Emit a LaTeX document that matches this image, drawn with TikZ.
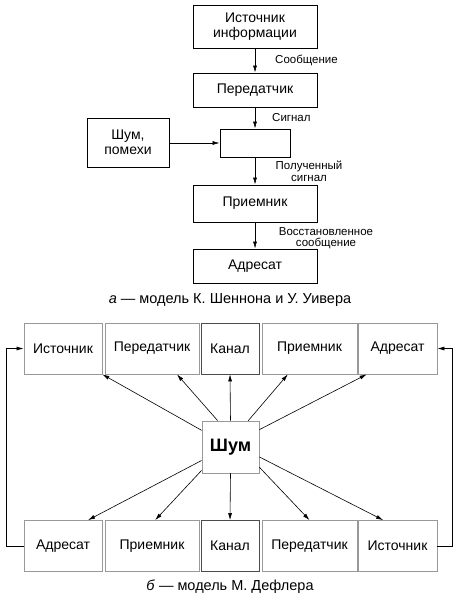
\documentclass[tikz,border=0pt]{standalone}
\usepackage{fontspec}
\setmainfont{Liberation Sans}
\usetikzlibrary{arrows.meta}

\begin{document}
\begin{tikzpicture}[x=1pt, y=-1pt,
		blk/.style={draw, line width=0.8pt, align=center, inner sep=0pt, font=\fontsize{14}{14.5}\selectfont},
		gblk/.style={draw=black!40, line width=0.8pt, inner sep=0pt, minimum height=51pt, font=\fontsize{14}{15}\selectfont},
		lbl/.style={align=center, inner sep=0pt, font=\fontsize{11.5}{11.5}\selectfont},
		capt/.style={inner sep=0pt, font=\fontsize{14.5}{15}\selectfont},
		arr/.style={-{Latex[length=7pt,width=4pt]}, line width=0.6pt}]
		\useasboundingbox (0, 0) rectangle (458, 602);
	
		\node[blk, minimum width=124pt, minimum height=43pt] (src) at (255, 26.5) {Источник\\информации};
		\node[blk, minimum width=124pt, minimum height=34pt] (tx) at (255, 90) {Передатчик};
		\node[blk, minimum width=70pt, minimum height=28pt] (ch) at (255, 143) {};
		\node[blk, minimum width=82pt, minimum height=49pt] (noise) at (128, 142.5) {Шум,\\помехи};
		\node[blk, minimum width=124pt, minimum height=37pt] (rx) at (255, 203.5) {Приемник};
		\node[blk, minimum width=124pt, minimum height=34pt] (dst) at (255, 266) {Адресат};
		
		\draw[arr] (src) -- (tx);
		\draw[arr] (tx) -- (ch);
		\draw[arr] (noise.east |- ch.west) -- (ch.west);
		\draw[arr] (ch) -- (rx);
		\draw[arr] (rx) -- (dst);
		
		\node[lbl, anchor=west] (msg) at (275, 60) {Сообщение};
		\node[lbl, anchor=west] (sig) at (272, 118) {Сигнал};
		\node[lbl] (rsig) at (309, 171.5) {Полученный\\сигнал};
		\node[lbl] (rmsg) at (326, 238) {Восстановленное\\сообщение};
		
		\node[capt] (capa) at (230, 300) {\textit{а} — модель К. Шеннона и У. Уивера};
		
		\node[gblk, minimum width=78pt] (iT) at (63, 348.5) {Источник};
		\node[gblk, minimum width=94pt] (pT) at (152, 348.5) {Передатчик};
		\node[gblk, draw=black!70, minimum width=58pt] (kT) at (230, 348.5) {Канал};
		\node[gblk, minimum width=95pt] (prT) at (309.5, 348.5) {Приемник};
		\node[gblk, minimum width=79pt] (aT) at (397.5, 348.5) {Адресат};
		
		\node[gblk, minimum width=78pt] (aB) at (63, 546) {Адресат};
		\node[gblk, minimum width=94pt] (prB) at (152, 546) {Приемник};
		\node[gblk, draw=black!70, minimum width=58pt] (kB) at (230, 546) {Канал};
		\node[gblk, minimum width=95pt] (pB) at (309.5, 546) {Передатчик};
		\node[gblk, minimum width=79pt] (iB) at (397.5, 546) {Источник};
		
		\node[gblk, minimum width=57pt, minimum height=52pt, font=\fontsize{18}{20}\selectfont\bfseries] (shum) at (230.5, 447) {Шум};
		
		\draw[arr] (shum.150) -- (iT.south east);
		\draw[arr] (shum.116) -- (pT.-46);
		\draw[arr] (shum.north) -- (kT.south);
		\draw[arr] (shum.56) -- (prT.230);
		\draw[arr] (shum.31) -- (aT.220);
		
		\draw[arr] (shum.205) -- (aB.46);
		\draw[arr] (shum.219) -- (prB.83);
		\draw[arr] (shum.south) -- (kB.north);
		\draw[arr] (shum.-35) -- (pB.north);
		\draw[arr] (shum.-19) -- (iB.119);
		
		\draw[arr, {Latex[length=7pt,width=4pt]}-] (iT.west) -- ++(-17, 0) |- (aB.west);
		\draw[arr, {Latex[length=7pt,width=4pt]}-] (aT.east) -- ++(15, 0) |- (iB.east);
		
		\node[capt] (capb) at (230, 587) {\textit{б} — модель М. Дефлера};
	\end{tikzpicture}
\end{document}
